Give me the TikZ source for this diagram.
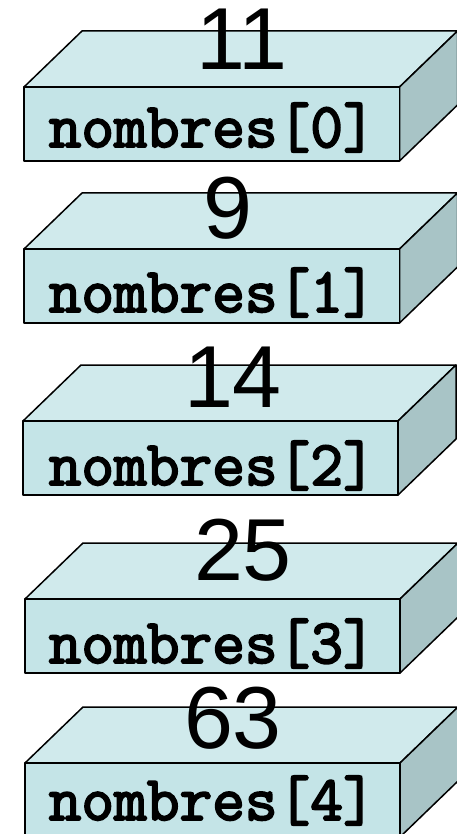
\documentclass[tikz,border=0pt]{standalone}
\usepackage{fontspec}
\newfontfamily\digitfont{Liberation Sans}
\newfontfamily\codefont{Latin Modern Mono}[FakeBold=3]
\definecolor{topc}{HTML}{D0EAEC}
\definecolor{frontc}{HTML}{C4E4E7}
\definecolor{sidec}{HTML}{A8C4C6}
\begin{document}
\begin{tikzpicture}[x=1pt,y=-1pt,
  face/.style={draw=black,line width=1.5pt,line join=round},
  valtext/.style={anchor=base,inner sep=0pt,font=\digitfont\fontsize{88}{88}\selectfont},
  idxtext/.style={anchor=base west,inner sep=0pt,font=\codefont\fontsize{63.5}{63.5}\selectfont}]
\useasboundingbox (0,0) rectangle (457,834);
\clip (0,0) rectangle (457,834);
\foreach \i/\l/\r/\t/\b/\val/\vx/\vy/\ly in {
  0/24/399.5/87/161/11/242/70/147,
  1/24/399.5/249/323/9/228/238/312,
  2/23/398/421/495/14/233/407/485,
  3/25/400/599/673/25/243/580/663,
  4/25/400/763/837/63/233/748/820}{
  \draw[face,fill=topc] (\l,\t) -- (\l+58,\t-56) -- (\r+58,\t-56) -- (\r,\t) -- cycle;
  \draw[face,fill=sidec] (\r,\t) -- (\r+58,\t-56) -- (\r+58,\b-56) -- (\r,\b) -- cycle;
  \draw[face,fill=frontc] (\l,\t) rectangle (\r,\b);
  \node[valtext] (v\i) at (\vx,\vy) {\val};
  \node[idxtext] (n\i) at (48.5,\ly) {nombres[\i]};
}
\end{tikzpicture}
\end{document}
